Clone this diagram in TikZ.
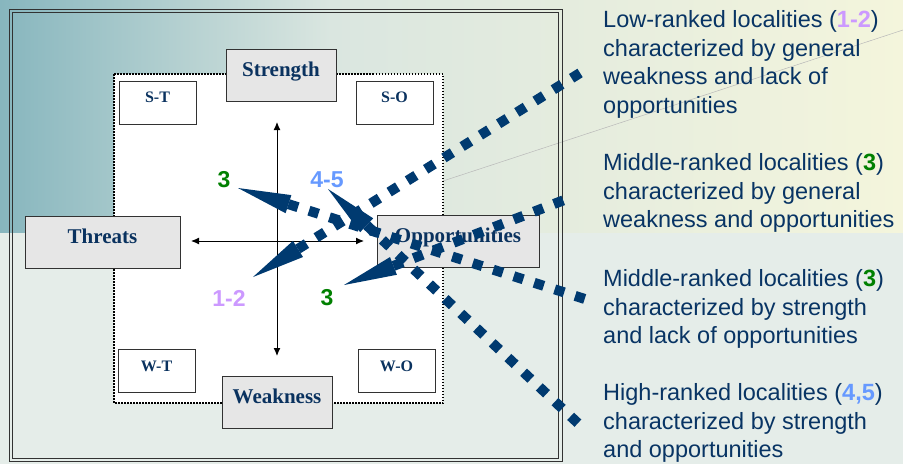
\documentclass[tikz,border=0pt]{standalone}
\usepackage{fontspec}
\setmainfont{Liberation Serif}
\newfontfamily\arial{Liberation Sans}
\usetikzlibrary{calc,arrows.meta}
\definecolor{navy}{RGB}{0,58,112}
\definecolor{txtblue}{RGB}{8,52,100}
\definecolor{boxblue}{RGB}{10,50,95}
\definecolor{rgreen}{RGB}{0,128,0}
\definecolor{lav}{RGB}{204,153,255}
\definecolor{lblue}{RGB}{102,153,255}
\definecolor{boxgray}{RGB}{230,230,230}
\definecolor{bgteal}{RGB}{135,182,190}
\definecolor{bgmid}{RGB}{218,230,224}
\definecolor{bgyel}{RGB}{244,245,220}
\definecolor{bglow}{RGB}{229,237,233}
\definecolor{edgegray}{RGB}{50,50,50}
\begin{document}
\begin{tikzpicture}[x=1pt,y=-1pt,
  bigbox/.style={draw=edgegray,line width=1pt,fill=boxgray,inner sep=0pt,text height=27pt,text depth=25pt,font=\fontsize{21}{21}\selectfont\bfseries,text=boxblue},
  smallbox/.style={draw=edgegray,line width=1pt,fill=white,inner sep=0pt,text height=21.5pt,text depth=21.5pt,font=\fontsize{16}{16}\selectfont\bfseries,text=boxblue},
  rank/.style={font=\arial\fontsize{23}{23}\selectfont\bfseries,inner sep=0pt},
  desc/.style={font=\arial\fontsize{23.5}{28.8}\selectfont,text=txtblue,align=left,anchor=north west,inner sep=0pt},
  dots/.style={draw=navy,line width=10pt,dash pattern=on 10pt off 11.5pt},
  axisline/.style={line width=1pt,{Latex[length=8pt,width=7pt]}-{Latex[length=8pt,width=7pt]}}]
% background
\useasboundingbox (0,0) rectangle (903,464);
\fill[bglow] (0,0) rectangle (903,464);
\shade[left color=bgteal,right color=bgmid] (0,0) rectangle (330,232);
\shade[left color=bgmid,right color=bgyel] (330,0) rectangle (903,232);
\draw[gray!55,line width=0.5pt] (443,181) -- (903,30);
% outer double frame
\draw[edgegray,line width=1pt] (9,9) rectangle (562,461);
\draw[edgegray,line width=1pt] (12,12) rectangle (558,458);
% inner dotted area
\draw[fill=white,line width=1.6pt,dash pattern=on 1.5pt off 1.5pt] (114,74) rectangle (443,403);
% corner boxes
\node[smallbox,minimum width=77pt] (st) at (157.5,102.5) {S-T};
\node[smallbox,minimum width=77pt] (so) at (394.5,102.5) {S-O};
\node[smallbox,minimum width=77pt] (wt) at (156.5,371) {W-T};
\node[smallbox,minimum width=77pt] (wo) at (396.5,371) {W-O};
% main boxes
\node[bigbox,minimum width=110pt] (str) at (281,75) {Strength};
\node[bigbox,minimum width=155pt] (thr) at (102.5,242) {Threats};
\node[bigbox,minimum width=162pt] (opp) at (458,241.5) {Opportunities};
\node[bigbox,minimum width=110pt] (wea) at (277,402.5) {Weakness};
% axes
\coordinate (vt) at (277,122);
\coordinate (vb) at (277,356);
\coordinate (hl) at (191,241);
\coordinate (hr) at (364,241);
\draw[axisline] (vt) -- (vb);
\draw[axisline] (hl) -- (hr);
% rank labels
\node[rank,text=rgreen] (ra) at (224,180) {3};
\node[rank,text=lblue] (rb) at (327,180) {4-5};
\node[rank,text=lav] (rc) at (229,298) {1-2};
\node[rank,text=rgreen] (rd) at (327,298) {3};
% descriptions
\node[desc] (d1) at (603,10) {Low-ranked localities (\textcolor{lav}{\bfseries 1-2})\\characterized by general\\weakness and lack of\\opportunities};
\node[desc] (d2) at (603,153) {Middle-ranked localities (\textcolor{rgreen}{\bfseries 3})\\characterized by general\\weakness and opportunities};
\node[desc] (d3) at (603,269) {Middle-ranked localities (\textcolor{rgreen}{\bfseries 3})\\characterized by strength\\and lack of opportunities};
\node[desc] (d4) at (603,383) {High-ranked localities (\textcolor{lblue}{\bfseries 4,5})\\characterized by strength\\and opportunities};
% callouts
\coordinate (t1) at (238,188); \coordinate (e1) at (588,300);
\coordinate (t2) at (328,189); \coordinate (e2) at (582,427);
\coordinate (t3) at (253,277); \coordinate (e3) at (588,68);
\coordinate (t4) at (344,285); \coordinate (e4) at (572,197);
\foreach \i in {1,2,3,4}{
  \coordinate (b\i) at ($(t\i)!53pt!(e\i)$);
  \fill[navy] (t\i) -- ($(b\i)!9.5pt!90:(e\i)$) -- ($(b\i)!9.5pt!-90:(e\i)$) -- cycle;
}
\draw[dots] (b1) -- (e1);
\draw[dots] (b2) -- (e2);
\draw[dots] (b3) -- (e3);
\draw[dots] (b4) -- (e4);
\end{tikzpicture}
\end{document}
